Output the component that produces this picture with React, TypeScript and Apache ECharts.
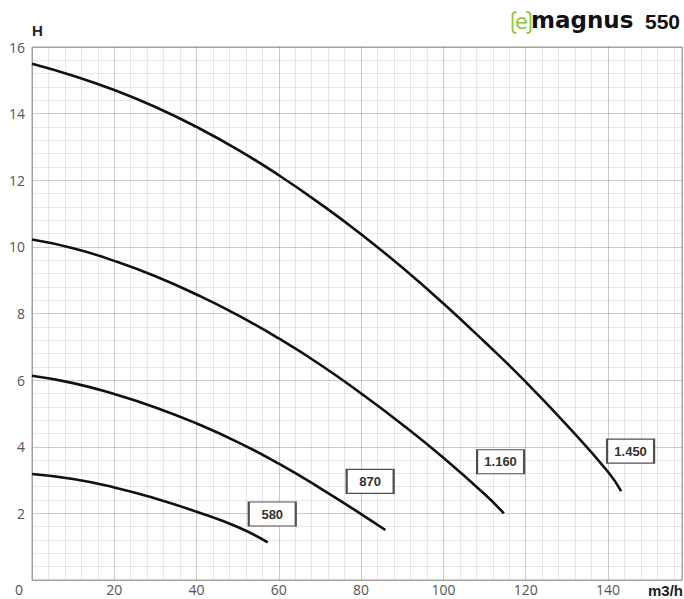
import React, { useEffect, useRef } from "react";
import * as echarts from "echarts";

// Curve names (speed, rpm)
const curveNames = ["580", "870", "1.160", "1.450"];

// Flow (m3/h) and head (m) for each curve
const q580 = [0, 10, 20, 30, 40, 50, 57.3];
const h580 = [3.18, 3.03, 2.78, 2.45, 2.05, 1.59, 1.13];

const q870 = [0, 10, 20, 30, 40, 50, 60, 70, 80, 85.9];
const h870 = [6.13, 5.91, 5.58, 5.18, 4.7, 4.14, 3.49, 2.76, 1.98, 1.5];

const q1160 = [0, 10, 20, 30, 40, 50, 60, 70, 80, 90, 100, 110, 114.7];
const h1160 = [10.22, 9.96, 9.58, 9.12, 8.57, 7.95, 7.25, 6.47, 5.6, 4.67, 3.67, 2.58, 2.0];

const q1450 = [0, 10, 20, 30, 40, 50, 60, 70, 80, 90, 100, 110, 120, 130, 140, 143.2];
const h1450 = [15.5, 15.14, 14.71, 14.2, 13.6, 12.92, 12.15, 11.3, 10.38, 9.38, 8.3, 7.15, 5.95, 4.65, 3.25, 2.67];

// Label box anchor (data coords) for each curve
const labelQ = [58.4, 82.2, 113.9, 145.5];
const labelH = [1.98, 2.96, 3.55, 3.87];

const X_MAX = 158;
const Y_MAX = 16;

const zip = (xs: number[], ys: number[]) => xs.map((x, i) => [x, ys[i]]);

export default function App() {
  const ref = useRef<HTMLDivElement>(null);
  useEffect(() => {
    if (!ref.current) return;
    const chart = echarts.init(ref.current, null, { renderer: "svg" });
    const curves = [zip(q580, h580), zip(q870, h870), zip(q1160, h1160), zip(q1450, h1450)];
    const axisFont = { fontFamily: "Open Sans", fontSize: 14, color: "#555" };
    chart.setOption({
      animation: false,
      backgroundColor: "#fff",
      grid: {
        left: 32,
        right: 2,
        top: 47,
        bottom: 19,
        show: true,
        borderColor: "#a0a0a0",
        borderWidth: 1,
        backgroundColor: "#fff",
      },
      xAxis: [
        {
          type: "value",
          min: 0,
          max: X_MAX,
          interval: 20,
          axisLine: { show: true, lineStyle: { color: "#a0a0a0", width: 1 } },
          axisTick: { show: false },
          axisLabel: {
            ...axisFont,
            margin: 2,
            showMinLabel: false,
            showMaxLabel: false,
          },
          splitLine: { show: true, lineStyle: { color: "rgba(0,0,0,0.12)", width: 1 } },
        },
        {
          type: "value",
          min: 0,
          max: X_MAX,
          interval: 4,
          position: "bottom",
          axisLine: { show: false },
          axisTick: { show: false },
          axisLabel: { show: false },
          splitLine: { show: true, lineStyle: { color: "rgba(0,0,0,0.09)", width: 1 } },
        },
      ],
      yAxis: {
        type: "value",
        min: 0,
        max: Y_MAX,
        interval: 2,
        axisLine: { show: true, lineStyle: { color: "#a0a0a0", width: 1 } },
        axisTick: { show: false },
        axisLabel: { ...axisFont, margin: 7, showMinLabel: false },
        splitLine: { show: true, lineStyle: { color: "rgba(0,0,0,0.2)", width: 1 } },
        minorTick: { show: false, splitNumber: 5 },
        minorSplitLine: { show: true, lineStyle: { color: "rgba(0,0,0,0.09)", width: 1 } },
      },
      series: curves.map((data, i) => ({
        type: "line",
        name: curveNames[i],
        data,
        smooth: 0.5,
        showSymbol: false,
        symbol: "none",
        lineStyle: { color: "#111", width: 2.6 },
        z: 5,
        markPoint: {
          symbol: "rect",
          symbolSize: [47, 24],
          itemStyle: { color: "#fff", borderColor: "#505050", borderWidth: 1.6 },
          label: {
            show: true,
            formatter: curveNames[i],
            color: "#333",
            fontFamily: "Liberation Sans",
            fontWeight: "bold",
            fontSize: 13,
          },
          data: [{ coord: [labelQ[i], labelH[i]], value: curveNames[i] }],
        },
      })),
      graphic: [
        {
          type: "text",
          left: 32,
          top: 23,
          style: { text: "H", font: "bold 15px 'Liberation Sans'", fill: "#222" },
        },
        {
          type: "text",
          x: 683,
          y: 590,
          style: {
            text: "m3/h",
            font: "bold 15px 'Liberation Sans'",
            fill: "#222",
            align: "right",
            verticalAlign: "middle",
          },
        },
        {
          type: "text",
          x: 19,
          y: 589,
          style: {
            text: "0",
            font: "14px 'Open Sans'",
            fill: "#555",
            align: "center",
            verticalAlign: "middle",
          },
        },
        {
          type: "polyline",
          shape: { points: [[516.5, 12], [513.5, 12.5], [512.5, 15], [512.5, 30], [513.5, 32.5], [516.5, 33]] },
          style: { stroke: "#8cc63e", lineWidth: 1.8, fill: null },
        },
        {
          type: "polyline",
          shape: { points: [[526.5, 12], [529.5, 12.5], [530.5, 15], [530.5, 30], [529.5, 32.5], [526.5, 33]] },
          style: { stroke: "#8cc63e", lineWidth: 1.8, fill: null },
        },
        {
          type: "text",
          x: 521.5,
          y: 21.5,
          style: {
            text: "e",
            font: "21px 'DejaVu Sans'",
            fill: "#8cc63e",
            align: "center",
            verticalAlign: "middle",
          },
        },
        {
          type: "text",
          x: 531,
          y: 20,
          style: {
            text: "magnus",
            font: "bold 23px 'DejaVu Sans'",
            fill: "#111",
            align: "left",
            verticalAlign: "middle",
          },
        },
        {
          type: "text",
          x: 645,
          y: 21,
          style: {
            text: "550",
            font: "bold 21px 'Liberation Sans'",
            fill: "#111",
            align: "left",
            verticalAlign: "middle",
          },
        },
      ],
    });
    return () => chart.dispose();
  }, []);
  return (
    <div
      ref={ref}
      style={{ position: "absolute", left: 0, top: 0, width: 684, height: 599 }}
    />
  );
}
